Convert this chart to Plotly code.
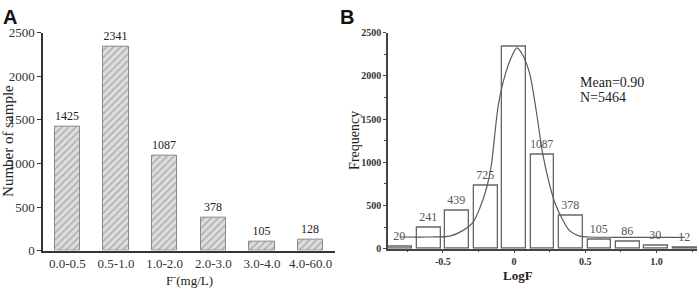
import plotly.graph_objects as go

# ---- data ----
cat_a = ["0.0-0.5", "0.5-1.0", "1.0-2.0", "2.0-3.0", "3.0-4.0", "4.0-60.0"]
val_a = [1425, 2341, 1087, 378, 105, 128]

logf_b = [-0.8, -0.6, -0.4, -0.2, 0.0, 0.2, 0.4, 0.6, 0.8, 1.0, 1.2]
freq_b = [20, 241, 439, 725, 2341, 1087, 378, 105, 86, 30, 12]
label_b = ["20", "241", "439", "725", "", "1087", "378", "105", "86", "30", "12"]

curve_x = [-0.80, -0.59, -0.45, -0.36, -0.29, -0.24, -0.19, -0.16, -0.11, -0.06,
           -0.01, 0.02, 0.06, 0.11, 0.16, 0.20, 0.25, 0.29, 0.34, 0.39, 0.46,
           0.53, 0.70, 1.20]
curve_y = [135, 135, 146, 209, 301, 470, 720, 960, 1663, 2026,
           2247, 2324, 2245, 2026, 1553, 1112, 738, 518, 341, 209, 146,
           135, 132, 132]

yticks = [0, 500, 1000, 1500, 2000, 2500]
xticks_b = [-0.5, 0.0, 0.5, 1.0]
xticktext_b = ["-0.5", "0", "0.5", "1.0"]

W, H = 699, 298
SERIF = "Liberation Serif, Times New Roman, serif"

def px(x):
    return x / W

def py(y):
    return 1 - y / H

fig = go.Figure()

fig.add_trace(go.Bar(
    x=cat_a, y=val_a, width=0.52,
    marker=dict(color="#d9d9d9", line=dict(color="#8a8a8a", width=1),
                pattern=dict(shape="/", fgcolor="#6e6e6e", bgcolor="#dcdcdc",
                             size=5, solidity=0.25)),
    text=[str(v) for v in val_a], textposition="outside",
    textfont=dict(family=SERIF, size=12, color="#222"),
    cliponaxis=False, xaxis="x", yaxis="y", showlegend=False,
))

fig.add_trace(go.Bar(
    x=logf_b, y=freq_b, width=0.168,
    marker=dict(color="white", line=dict(color="#666", width=1.3)),
    text=label_b, textposition="outside",
    textfont=dict(family=SERIF, size=12, color="#555"),
    cliponaxis=False, xaxis="x2", yaxis="y2", showlegend=False,
))

fig.add_trace(go.Scatter(
    x=curve_x, y=curve_y, mode="lines",
    line=dict(color="#5a5a5a", width=1.2, shape="spline", smoothing=0.8),
    xaxis="x2", yaxis="y2", showlegend=False,
))

axis_common = dict(showgrid=False, zeroline=False, showline=True, mirror=False)

fig.update_layout(
    width=W, height=H,
    margin=dict(l=0, r=0, t=0, b=0),
    paper_bgcolor="white", plot_bgcolor="white",
    bargap=0,
    xaxis=dict(domain=[px(43), px(335)], range=[-0.5, 5.5], anchor="y",
               linecolor="#333", linewidth=1.5, ticks="",
               tickfont=dict(family=SERIF, size=13, color="#333"), **axis_common),
    yaxis=dict(domain=[py(256.5), py(27)], range=[0, 2500], anchor="x",
               tickvals=yticks, linecolor="#333", linewidth=1.5,
               ticks="outside", ticklen=4, tickcolor="#333",
               tickfont=dict(family=SERIF, size=13, color="#333"), **axis_common),
    xaxis2=dict(domain=[px(388), px(697)], range=[-0.885, 1.285], anchor="y2",
                tickvals=xticks_b, ticktext=xticktext_b,
                linecolor="#444", linewidth=1.5, ticks="outside", ticklen=3,
                tickcolor="#444",
                minor=dict(dtick=0.25, tick0=0, ticks="outside", ticklen=2, tickcolor="#444"),
                tickfont=dict(family=SERIF, size=10, color="#333", weight="bold"),
                **axis_common),
    yaxis2=dict(domain=[py(254.5), py(27)], range=[0, 2500], anchor="x2",
                tickvals=yticks, linecolor="#444", linewidth=1.5,
                ticks="outside", ticklen=3, tickcolor="#444",
                minor=dict(dtick=250, ticks="outside", ticklen=2, tickcolor="#444"),
                tickfont=dict(family=SERIF, size=10, color="#333", weight="bold"),
                **axis_common),
)

ann = [
    dict(text="<b>A</b>", x=px(10), y=py(11), font=dict(family="Liberation Sans", size=20, color="#111")),
    dict(text="<b>B</b>", x=px(347), y=py(11), font=dict(family="Liberation Sans", size=20, color="#111")),
    dict(text="Number of sample", x=px(8), y=py(141), textangle=-90,
         font=dict(family=SERIF, size=15, color="#222")),
    dict(text="F<sup>-</sup>(mg/L)", x=px(189), y=py(287),
         font=dict(family=SERIF, size=13, color="#222")),
    dict(text="Frequency", x=px(355), y=py(141), textangle=-90,
         font=dict(family=SERIF, size=14, color="#222")),
    dict(text="<b>LogF</b>", x=px(518), y=py(283),
         font=dict(family=SERIF, size=13, color="#222")),
    dict(text="Mean=0.90", x=px(578), y=py(80), xanchor="left",
         font=dict(family=SERIF, size=14, color="#222")),
    dict(text="N=5464", x=px(578), y=py(95), xanchor="left",
         font=dict(family=SERIF, size=14, color="#222")),
]
for a in ann:
    a.setdefault("xanchor", "center")
    a.update(xref="paper", yref="paper", yanchor="middle", showarrow=False)
fig.update_layout(annotations=ann)

fig.write_html("out.html", config={"displayModeBar": False},
               post_script="document.body.style.margin='0';document.body.style.overflow='hidden';")
